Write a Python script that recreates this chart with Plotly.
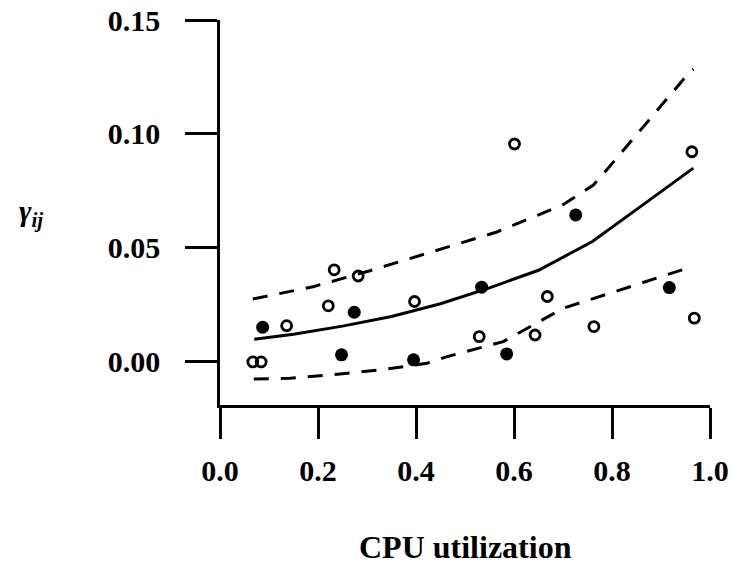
import plotly.graph_objects as go

# Open-circle observations
open_x = [0.067, 0.084, 0.136, 0.221, 0.233, 0.282, 0.397, 0.529, 0.601, 0.643, 0.668, 0.763, 0.963, 0.968]
open_y = [0.0000, 0.0000, 0.0159, 0.0246, 0.0404, 0.0377, 0.0265, 0.0111, 0.0956, 0.0118, 0.0287, 0.0155, 0.0922, 0.0192]

# Filled-circle observations
filled_x = [0.087, 0.248, 0.274, 0.395, 0.534, 0.585, 0.726, 0.917]
filled_y = [0.0152, 0.0031, 0.0218, 0.0009, 0.0328, 0.0035, 0.0645, 0.0326]

# Fitted curve
fit_x = [0.07, 0.15, 0.25, 0.35, 0.45, 0.55, 0.65, 0.76, 0.87, 0.966]
fit_y = [0.0099, 0.0121, 0.0157, 0.0199, 0.0255, 0.0325, 0.0402, 0.0528, 0.0700, 0.0850]

# Upper band
up_x = [0.067, 0.19, 0.306, 0.422, 0.565, 0.70, 0.762, 0.789, 0.864, 0.946, 0.966]
up_y = [0.0276, 0.0330, 0.0400, 0.0477, 0.0570, 0.0690, 0.0776, 0.0842, 0.1030, 0.1240, 0.1285]

# Lower band
lo_x = [0.069, 0.143, 0.245, 0.327, 0.422, 0.463, 0.578, 0.70, 0.837, 0.946]
lo_y = [-0.0075, -0.0072, -0.0053, -0.0035, -0.0006, 0.0023, 0.0089, 0.0235, 0.0330, 0.0406]

x_ticks = [0.0, 0.2, 0.4, 0.6, 0.8, 1.0]
x_tick_labels = ["0.0", "0.2", "0.4", "0.6", "0.8", "1.0"]
y_ticks = [0.00, 0.05, 0.10, 0.15]
y_tick_labels = ["0.00", "0.05", "0.10", "0.15"]

FONT = "Liberation Serif"
TICKFONT = dict(family=FONT, size=30, color="black", weight="bold")

fig = go.Figure()
fig.add_trace(go.Scatter(x=fit_x, y=fit_y, mode="lines",
                         line=dict(color="black", width=3), showlegend=False))
fig.add_trace(go.Scatter(x=up_x, y=up_y, mode="lines",
                         line=dict(color="black", width=3, dash="15px,12px"), showlegend=False))
fig.add_trace(go.Scatter(x=lo_x, y=lo_y, mode="lines",
                         line=dict(color="black", width=3, dash="15px,12px"), showlegend=False))
fig.add_trace(go.Scatter(x=open_x, y=open_y, mode="markers",
                         marker=dict(symbol="circle-open", size=10, color="black",
                                     line=dict(width=2.8, color="black")),
                         showlegend=False))
fig.add_trace(go.Scatter(x=filled_x, y=filled_y, mode="markers",
                         marker=dict(symbol="circle", size=13, color="black"),
                         showlegend=False))

fig.update_layout(
    width=737, height=568,
    margin=dict(l=220, r=27, t=20, b=163, pad=0, autoexpand=False),
    paper_bgcolor="white", plot_bgcolor="white",
    font=dict(family=FONT, color="black", size=24),
    xaxis=dict(range=[0, 1.0], tickvals=x_ticks, ticktext=x_tick_labels,
               automargin=False,
               showgrid=False, zeroline=False, showline=True, linecolor="black",
               linewidth=2.5, ticks="outside", ticklen=31, tickwidth=2.5,
               tickcolor="black", ticklabelstandoff=6,
               tickfont=TICKFONT),
    yaxis=dict(range=[-0.0189, 0.15], tickvals=y_ticks, ticktext=y_tick_labels,
               automargin=False,
               showgrid=False, zeroline=False, showline=True, linecolor="black",
               linewidth=2.5, ticks="outside", ticklen=32, tickwidth=2.5,
               tickcolor="black", ticklabelstandoff=19,
               tickfont=TICKFONT),
    annotations=[
        dict(text="<b>CPU utilization</b>", xref="paper", yref="paper",
             x=0.502, y=-0.369, xanchor="center", yanchor="middle",
             showarrow=False, font=dict(family=FONT, size=32, color="black")),
        dict(text="<b><i>γ<sub>ij</sub></i></b>", xref="paper", yref="paper",
             x=-0.386, y=0.50, xanchor="center", yanchor="middle",
             showarrow=False, font=dict(family=FONT, size=30, color="black")),
    ],
)

fig.write_html("out.html")
